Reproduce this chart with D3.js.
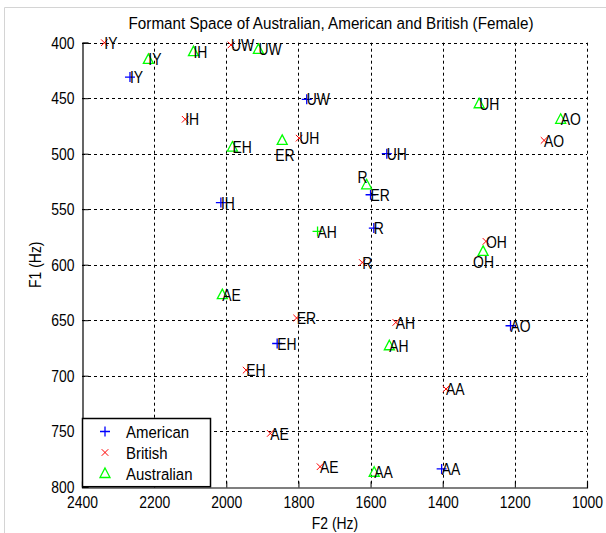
<!DOCTYPE html>
<html><head><meta charset="utf-8">
<script src="https://cdn.jsdelivr.net/npm/d3@7"></script>
<style>
html,body{margin:0;padding:0;background:#fff;}
svg{display:block;}
text{font-family:"Liberation Sans",Arial,Helvetica,sans-serif;}
</style></head>
<body>
<svg id="chart" width="606" height="533"></svg>
<script>
// ---- data ----
const americanLabels = ["IY","UW","UH","IH","ER","R","AO","EH","AA"];
const americanF2 = [2267,1777,1555,2015,1600,1591,1212,1859,1403];
const americanF1 = [431,451,500,544,537,567,655,671,784];

const britishLabels = ["IY","UW","IH","UH","AO","OH","R","ER","AH","EH","AA","AE","AE"];
const britishF2 = [2338,1987,2114,1798,1119,1280,1623,1805,1530,1945,1391,1878,1740];
const britishF1 = [400,402,469,486,488,579,598,648,652,695,712,752,782];

const australianLabels = ["IY","IH","UW","UH","AO","ER","EH","R","AH","OH","AE","AH","AA"];
const australianF2 = [2216,2091,1911,1299,1073,1845,1983,1611,1747,1288,2011,1548,1590];
const australianF1 = [415,408,406,455,469,488,494,528,570,588,627,673,787];
const australianMarkers = ["tri","tri","tri","tri","tri","tri","tri","tri","plus","tri","tri","tri","tri"];

const seriesNames = ["American","British","Australian"];
const xTicks = [2400,2200,2000,1800,1600,1400,1200,1000];
const yTicks = [400,450,500,550,600,650,700,750,800];
const titleText = "Formant Space of Australian, American and British (Female)";
const xLabel = "F2 (Hz)";
const yLabel = "F1 (Hz)";

// ---- layout ----
const svg = d3.select("#chart");
const L = 82, R = 587, T = 42.7, B = 486.7;
const x = d3.scaleLinear().domain([2400,1000]).range([L,R]);
const y = d3.scaleLinear().domain([400,800]).range([T,B]);
const FS = 17;
const SQ = 0.82; // horizontal squeeze to emulate narrow font

function addText(parent, tx, ty, str, s, anchor, rot){
  return parent.append("text")
    .attr("transform", `translate(${tx},${ty})` + (rot?` rotate(${rot})`:"") + ` scale(${s},1)`)
    .attr("text-anchor", anchor || "start")
    .attr("font-size", FS).attr("fill","#000").text(str);
}

// figure frame (light grey top/left edge)
svg.append("line").attr("x1",4.5).attr("x2",606).attr("y1",7.5).attr("y2",7.5).attr("stroke","#d4d4d4");
svg.append("line").attr("x1",4.5).attr("x2",4.5).attr("y1",7.5).attr("y2",533).attr("stroke","#d4d4d4");

// grid
const g = svg.append("g");
g.selectAll(".gx").data(xTicks.filter(v=>v!==2400)).enter().append("line")
  .attr("x1",d=>Math.round(x(d))+0.5).attr("x2",d=>Math.round(x(d))+0.5)
  .attr("y1",T).attr("y2",B)
  .attr("stroke","#000").attr("stroke-width",1).attr("stroke-dasharray","3,3");
g.selectAll(".gy").data(yTicks.filter(v=>v!==800)).enter().append("line")
  .attr("y1",d=>Math.round(y(d))+0.5).attr("y2",d=>Math.round(y(d))+0.5)
  .attr("x1",L).attr("x2",R)
  .attr("stroke","#000").attr("stroke-width",1).attr("stroke-dasharray","3,3");

// axes
const xAxis = d3.axisBottom(x).tickValues(xTicks).tickSize(-6).tickPadding(12).tickFormat(d3.format("d"));
const yAxis = d3.axisLeft(y).tickValues(yTicks).tickSize(-6).tickPadding(8).tickFormat(d3.format("d"));
const gx = svg.append("g").attr("transform",`translate(0,${Math.round(B)+0.5})`).call(xAxis);
const gy = svg.append("g").attr("transform",`translate(${L+0.5},0)`).call(yAxis);
[gx,gy].forEach(a=>{
  a.select(".domain").attr("stroke","#000").attr("stroke-width",1.2);
  a.selectAll(".tick line").attr("stroke","#000");
  a.selectAll("text").attr("font-size",FS).attr("fill","#000")
   .attr("font-family",'"Liberation Sans",Arial,sans-serif')
   .each(function(){
     const t = d3.select(this);
     const xx = +t.attr("x") || 0;
     t.attr("x", xx/SQ).attr("transform", `scale(${SQ},1)`);
   });
});
gx.selectAll(".tick text").attr("dy","0.5em");

// title & axis labels
addText(svg, 331, 29, titleText, 0.895, "middle");
addText(svg, 335, 529, xLabel, SQ, "middle");
addText(svg, 41, (T+B)/2, yLabel, SQ, "middle", -90);

// markers
const colors = {American:"#0000ff", British:"#ff0000", Australian:"#00ff00"};
function drawMarker(sel, type, cx, cy, color){
  if(type==="plus"){
    sel.append("path").attr("d",`M${cx-5},${cy}H${cx+5}M${cx},${cy-5}V${cy+5}`)
      .attr("stroke",color).attr("stroke-width",1.3).attr("fill","none");
  } else if(type==="x"){
    sel.append("path").attr("d",`M${cx-3.3},${cy-3.3}L${cx+3.3},${cy+3.3}M${cx-3.3},${cy+3.3}L${cx+3.3},${cy-3.3}`)
      .attr("stroke",color).attr("stroke-width",1).attr("fill","none");
  } else {
    sel.append("path").attr("d",`M${cx},${cy-5.5}L${cx+5},${cy+4}L${cx-5},${cy+4}Z`)
      .attr("stroke",color).attr("stroke-width",1.3).attr("fill","none");
  }
}
// label offsets (style)
const labelOffset = {"Australian:ER":[-7,14],"Australian:R":[-9,-8],"Australian:OH":[-10,10]};

const series = [
  {name:"American", labels:americanLabels, f2:americanF2, f1:americanF1, marker:americanLabels.map(()=>"plus")},
  {name:"British", labels:britishLabels, f2:britishF2, f1:britishF1, marker:britishLabels.map(()=>"x")},
  {name:"Australian", labels:australianLabels, f2:australianF2, f1:australianF1, marker:australianMarkers}
];
const pg = svg.append("g");
series.forEach(s=>{
  s.labels.forEach((lab,i)=>{
    const cx = x(s.f2[i]), cy = y(s.f1[i]);
    drawMarker(pg, s.marker[i], cx, cy, colors[s.name]);
    const off = labelOffset[s.name+":"+lab] || [0,0];
    addText(pg, cx+off[0], cy+off[1], lab, SQ, "start").attr("dy","0.36em");
  });
});

// legend
const lg = svg.append("g");
lg.append("rect").attr("x",L+0.5).attr("y",418.5).attr("width",128).attr("height",B-418.5)
  .attr("fill","#fff").attr("stroke","#000").attr("stroke-width",1.5);
const legY = [431.5,452.5,473.5];
const legType = ["plus","x","tri"];
seriesNames.forEach((n,i)=>{
  drawMarker(lg, legType[i], 105, legY[i], colors[n]);
  addText(lg, 126, legY[i], n, 0.88, "start").attr("dy","0.36em");
});
</script>
</body></html>
